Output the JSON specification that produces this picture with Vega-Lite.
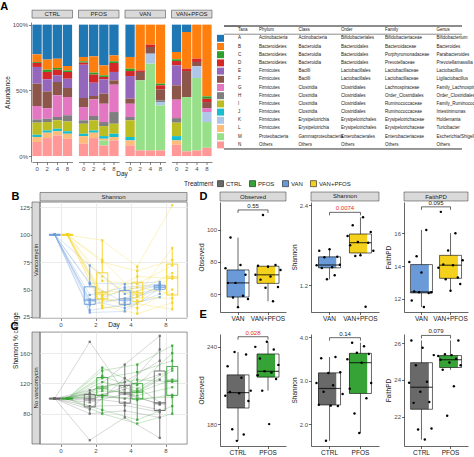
{
  "$schema": "https://vega.github.io/schema/vega-lite/v6.json",
  "padding": 0,
  "background": "white",
  "config": {
    "font": "Liberation Sans",
    "view": {"stroke": null},
    "axis": {"labelFontSize": 6, "titleFontSize": 6.5, "titleFontWeight": "normal", "labelColor": "#4D4D4D", "titleColor": "#1A1A1A", "tickColor": "#333333", "domainColor": "#333333", "tickSize": 2.5, "labelPadding": 1, "titlePadding": 2, "grid": false, "domainWidth": 0.6, "tickWidth": 0.6},
    "title": {"fontSize": 11, "fontWeight": "bold", "anchor": "start", "frame": "bounds", "color": "#000000"}
  },
  "datasets": {
    "abund": [
      {"trt":"CTRL","day":0,"taxon":"A","pct":22.6},{"trt":"CTRL","day":0,"taxon":"B","pct":5.8},{"trt":"CTRL","day":0,"taxon":"C","pct":0.7},{"trt":"CTRL","day":0,"taxon":"D","pct":3.1},{"trt":"CTRL","day":0,"taxon":"E","pct":12.7},{"trt":"CTRL","day":0,"taxon":"F","pct":17},{"trt":"CTRL","day":0,"taxon":"G","pct":10.2},{"trt":"CTRL","day":0,"taxon":"H","pct":2.5},{"trt":"CTRL","day":0,"taxon":"I","pct":9.2},{"trt":"CTRL","day":0,"taxon":"J","pct":1.7},{"trt":"CTRL","day":0,"taxon":"L","pct":3.8},{"trt":"CTRL","day":0,"taxon":"N","pct":10.7},
      {"trt":"CTRL","day":2,"taxon":"A","pct":26.6},{"trt":"CTRL","day":2,"taxon":"B","pct":7.7},{"trt":"CTRL","day":2,"taxon":"C","pct":1.7},{"trt":"CTRL","day":2,"taxon":"D","pct":5.6},{"trt":"CTRL","day":2,"taxon":"E","pct":9.2},{"trt":"CTRL","day":2,"taxon":"F","pct":12.7},{"trt":"CTRL","day":2,"taxon":"G","pct":8.1},{"trt":"CTRL","day":2,"taxon":"H","pct":2.5},{"trt":"CTRL","day":2,"taxon":"I","pct":6.4},{"trt":"CTRL","day":2,"taxon":"J","pct":1.7},{"trt":"CTRL","day":2,"taxon":"L","pct":4.1},{"trt":"CTRL","day":2,"taxon":"N","pct":13.7},
      {"trt":"CTRL","day":4,"taxon":"A","pct":25.9},{"trt":"CTRL","day":4,"taxon":"B","pct":7.1},{"trt":"CTRL","day":4,"taxon":"C","pct":1.3},{"trt":"CTRL","day":4,"taxon":"D","pct":4.3},{"trt":"CTRL","day":4,"taxon":"E","pct":5.1},{"trt":"CTRL","day":4,"taxon":"F","pct":10.1},{"trt":"CTRL","day":4,"taxon":"G","pct":16.5},{"trt":"CTRL","day":4,"taxon":"H","pct":2.5},{"trt":"CTRL","day":4,"taxon":"I","pct":6.4},{"trt":"CTRL","day":4,"taxon":"J","pct":2.0},{"trt":"CTRL","day":4,"taxon":"L","pct":3.1},{"trt":"CTRL","day":4,"taxon":"N","pct":15.7},
      {"trt":"CTRL","day":8,"taxon":"A","pct":31.5},{"trt":"CTRL","day":8,"taxon":"B","pct":3.3},{"trt":"CTRL","day":8,"taxon":"C","pct":1.2},{"trt":"CTRL","day":8,"taxon":"D","pct":5.1},{"trt":"CTRL","day":8,"taxon":"E","pct":7.1},{"trt":"CTRL","day":8,"taxon":"F","pct":6.9},{"trt":"CTRL","day":8,"taxon":"G","pct":13.9},{"trt":"CTRL","day":8,"taxon":"H","pct":4.6},{"trt":"CTRL","day":8,"taxon":"I","pct":7.6},{"trt":"CTRL","day":8,"taxon":"J","pct":1.8},{"trt":"CTRL","day":8,"taxon":"L","pct":3.8},{"trt":"CTRL","day":8,"taxon":"N","pct":13.2},
      {"trt":"PFOS","day":0,"taxon":"A","pct":24.6},{"trt":"PFOS","day":0,"taxon":"B","pct":3.3},{"trt":"PFOS","day":0,"taxon":"C","pct":1.0},{"trt":"PFOS","day":0,"taxon":"D","pct":1.6},{"trt":"PFOS","day":0,"taxon":"E","pct":25.3},{"trt":"PFOS","day":0,"taxon":"F","pct":6.9},{"trt":"PFOS","day":0,"taxon":"G","pct":10.1},{"trt":"PFOS","day":0,"taxon":"H","pct":2.6},{"trt":"PFOS","day":0,"taxon":"I","pct":7.6},{"trt":"PFOS","day":0,"taxon":"J","pct":1.8},{"trt":"PFOS","day":0,"taxon":"L","pct":5.8},{"trt":"PFOS","day":0,"taxon":"N","pct":9.4},
      {"trt":"PFOS","day":2,"taxon":"A","pct":24.1},{"trt":"PFOS","day":2,"taxon":"B","pct":12.4},{"trt":"PFOS","day":2,"taxon":"C","pct":1.5},{"trt":"PFOS","day":2,"taxon":"D","pct":6.2},{"trt":"PFOS","day":2,"taxon":"E","pct":10.1},{"trt":"PFOS","day":2,"taxon":"F","pct":2.6},{"trt":"PFOS","day":2,"taxon":"G","pct":12.6},{"trt":"PFOS","day":2,"taxon":"H","pct":3.3},{"trt":"PFOS","day":2,"taxon":"I","pct":7.7},{"trt":"PFOS","day":2,"taxon":"J","pct":1.7},{"trt":"PFOS","day":2,"taxon":"L","pct":4.1},{"trt":"PFOS","day":2,"taxon":"N","pct":13.7},
      {"trt":"PFOS","day":4,"taxon":"A","pct":31.0},{"trt":"PFOS","day":4,"taxon":"B","pct":7.6},{"trt":"PFOS","day":4,"taxon":"C","pct":1.2},{"trt":"PFOS","day":4,"taxon":"D","pct":1.8},{"trt":"PFOS","day":4,"taxon":"E","pct":10.9},{"trt":"PFOS","day":4,"taxon":"F","pct":7.7},{"trt":"PFOS","day":4,"taxon":"G","pct":13.9},{"trt":"PFOS","day":4,"taxon":"H","pct":3.1},{"trt":"PFOS","day":4,"taxon":"I","pct":7.6},{"trt":"PFOS","day":4,"taxon":"J","pct":2.0},{"trt":"PFOS","day":4,"taxon":"L","pct":1.3},{"trt":"PFOS","day":4,"taxon":"M","pct":3.8},{"trt":"PFOS","day":4,"taxon":"N","pct":8.1},
      {"trt":"PFOS","day":8,"taxon":"A","pct":23.4},{"trt":"PFOS","day":8,"taxon":"B","pct":4.5},{"trt":"PFOS","day":8,"taxon":"C","pct":1.3},{"trt":"PFOS","day":8,"taxon":"D","pct":6.8},{"trt":"PFOS","day":8,"taxon":"E","pct":6.4},{"trt":"PFOS","day":8,"taxon":"F","pct":3.3},{"trt":"PFOS","day":8,"taxon":"G","pct":20.8},{"trt":"PFOS","day":8,"taxon":"H","pct":8.9},{"trt":"PFOS","day":8,"taxon":"I","pct":7.6},{"trt":"PFOS","day":8,"taxon":"J","pct":2.5},{"trt":"PFOS","day":8,"taxon":"L","pct":2.6},{"trt":"PFOS","day":8,"taxon":"N","pct":11.9},
      {"trt":"VAN","day":0,"taxon":"A","pct":24.6},{"trt":"VAN","day":0,"taxon":"B","pct":8.9},{"trt":"VAN","day":0,"taxon":"C","pct":1.8},{"trt":"VAN","day":0,"taxon":"D","pct":3.8},{"trt":"VAN","day":0,"taxon":"E","pct":17.2},{"trt":"VAN","day":0,"taxon":"F","pct":3.9},{"trt":"VAN","day":0,"taxon":"G","pct":10.1},{"trt":"VAN","day":0,"taxon":"H","pct":2.5},{"trt":"VAN","day":0,"taxon":"I","pct":12.7},{"trt":"VAN","day":0,"taxon":"J","pct":2.6},{"trt":"VAN","day":0,"taxon":"L","pct":3.8},{"trt":"VAN","day":0,"taxon":"N","pct":8.1},
      {"trt":"VAN","day":2,"taxon":"B","pct":34.8},{"trt":"VAN","day":2,"taxon":"D","pct":1.2},{"trt":"VAN","day":2,"taxon":"F","pct":6.4},{"trt":"VAN","day":2,"taxon":"M","pct":53.3},{"trt":"VAN","day":2,"taxon":"N","pct":4.3},
      {"trt":"VAN","day":4,"taxon":"B","pct":15.2},{"trt":"VAN","day":4,"taxon":"D","pct":1.8},{"trt":"VAN","day":4,"taxon":"F","pct":5.1},{"trt":"VAN","day":4,"taxon":"K","pct":7.6},{"trt":"VAN","day":4,"taxon":"M","pct":66.0},{"trt":"VAN","day":4,"taxon":"N","pct":4.3},
      {"trt":"VAN","day":8,"taxon":"B","pct":44.9},{"trt":"VAN","day":8,"taxon":"C","pct":1.3},{"trt":"VAN","day":8,"taxon":"D","pct":3.0},{"trt":"VAN","day":8,"taxon":"F","pct":8.4},{"trt":"VAN","day":8,"taxon":"H","pct":1.3},{"trt":"VAN","day":8,"taxon":"K","pct":2.5},{"trt":"VAN","day":8,"taxon":"M","pct":34.3},{"trt":"VAN","day":8,"taxon":"N","pct":4.3},
      {"trt":"VAN+PFOS","day":0,"taxon":"A","pct":20.8},{"trt":"VAN+PFOS","day":0,"taxon":"B","pct":5.6},{"trt":"VAN+PFOS","day":0,"taxon":"C","pct":1.3},{"trt":"VAN+PFOS","day":0,"taxon":"D","pct":3.3},{"trt":"VAN+PFOS","day":0,"taxon":"E","pct":15.2},{"trt":"VAN+PFOS","day":0,"taxon":"F","pct":10.9},{"trt":"VAN+PFOS","day":0,"taxon":"G","pct":14.0},{"trt":"VAN+PFOS","day":0,"taxon":"H","pct":3.5},{"trt":"VAN+PFOS","day":0,"taxon":"I","pct":10.2},{"trt":"VAN+PFOS","day":0,"taxon":"J","pct":3.3},{"trt":"VAN+PFOS","day":0,"taxon":"L","pct":3.3},{"trt":"VAN+PFOS","day":0,"taxon":"N","pct":8.6},
      {"trt":"VAN+PFOS","day":2,"taxon":"A","pct":5.6},{"trt":"VAN+PFOS","day":2,"taxon":"B","pct":27.9},{"trt":"VAN+PFOS","day":2,"taxon":"D","pct":1.8},{"trt":"VAN+PFOS","day":2,"taxon":"F","pct":19.8},{"trt":"VAN+PFOS","day":2,"taxon":"M","pct":41.3},{"trt":"VAN+PFOS","day":2,"taxon":"N","pct":3.6},
      {"trt":"VAN+PFOS","day":4,"taxon":"B","pct":25.9},{"trt":"VAN+PFOS","day":4,"taxon":"D","pct":2.5},{"trt":"VAN+PFOS","day":4,"taxon":"F","pct":3.3},{"trt":"VAN+PFOS","day":4,"taxon":"K","pct":8.9},{"trt":"VAN+PFOS","day":4,"taxon":"M","pct":55.1},{"trt":"VAN+PFOS","day":4,"taxon":"N","pct":4.3},
      {"trt":"VAN+PFOS","day":8,"taxon":"B","pct":54.6},{"trt":"VAN+PFOS","day":8,"taxon":"C","pct":1.8},{"trt":"VAN+PFOS","day":8,"taxon":"D","pct":2.5},{"trt":"VAN+PFOS","day":8,"taxon":"F","pct":4.6},{"trt":"VAN+PFOS","day":8,"taxon":"G","pct":3.0},{"trt":"VAN+PFOS","day":8,"taxon":"K","pct":7.6},{"trt":"VAN+PFOS","day":8,"taxon":"M","pct":19.6},{"trt":"VAN+PFOS","day":8,"taxon":"N","pct":6.3}
    ],
    "taxtable": [
      {"Taxa":"A","Phylum":"Actinobacteria","Class":"Actinobacteria","Order":"Bifidobacteriales","Family":"Bifidobacteriaceae","Genus":"Bifidobacterium"},
      {"Taxa":"B","Phylum":"Bacteroidetes","Class":"Bacteroidia","Order":"Bacteroidales","Family":"Bacteroidaceae","Genus":"Bacteroides"},
      {"Taxa":"C","Phylum":"Bacteroidetes","Class":"Bacteroidia","Order":"Bacteroidales","Family":"Porphyromonadaceae","Genus":"Parabacteroides"},
      {"Taxa":"D","Phylum":"Bacteroidetes","Class":"Bacteroidia","Order":"Bacteroidales","Family":"Prevotellaceae","Genus":"Prevotellamassilia"},
      {"Taxa":"E","Phylum":"Firmicutes","Class":"Bacilli","Order":"Lactobacillales","Family":"Lactobacillaceae","Genus":"Lactobacillus"},
      {"Taxa":"F","Phylum":"Firmicutes","Class":"Bacilli","Order":"Lactobacillales","Family":"Lactobacillaceae","Genus":"Ligilactobacillus"},
      {"Taxa":"G","Phylum":"Firmicutes","Class":"Clostridia","Order":"Clostridiales","Family":"Lachnospiraceae","Genus":"Family_Lachnospiraceae"},
      {"Taxa":"H","Phylum":"Firmicutes","Class":"Clostridia","Order":"Clostridiales","Family":"Order_Clostridiales","Genus":"Order_Clostridiales"},
      {"Taxa":"I","Phylum":"Firmicutes","Class":"Clostridia","Order":"Clostridiales","Family":"Ruminococcaceae","Genus":"Family_Ruminococcaceae"},
      {"Taxa":"J","Phylum":"Firmicutes","Class":"Clostridia","Order":"Clostridiales","Family":"Ruminococcaceae","Genus":"Intestinimonas"},
      {"Taxa":"K","Phylum":"Firmicutes","Class":"Erysipelotrichia","Order":"Erysipelotrichales","Family":"Erysipelotrichaceae","Genus":"Holdemania"},
      {"Taxa":"L","Phylum":"Firmicutes","Class":"Erysipelotrichia","Order":"Erysipelotrichales","Family":"Erysipelotrichaceae","Genus":"Turicibacter"},
      {"Taxa":"M","Phylum":"Proteobacteria","Class":"Gammaproteobacteria","Order":"Enterobacterales","Family":"Enterobacteriaceae","Genus":"Escherichia/Shigella"},
      {"Taxa":"N","Phylum":"Others","Class":"Others","Order":"Others","Family":"Others","Genus":"Others"}
    ],
    "trajB": [
      {"trt":"VAN","mouse":"V1","day":0,"pct":100},{"trt":"VAN","mouse":"V1","day":2,"pct":72},{"trt":"VAN","mouse":"V1","day":4,"pct":46},{"trt":"VAN","mouse":"V1","day":8,"pct":54},
      {"trt":"VAN","mouse":"V2","day":0,"pct":100},{"trt":"VAN","mouse":"V2","day":2,"pct":56},{"trt":"VAN","mouse":"V2","day":4,"pct":55},{"trt":"VAN","mouse":"V2","day":8,"pct":57},
      {"trt":"VAN","mouse":"V3","day":0,"pct":100},{"trt":"VAN","mouse":"V3","day":2,"pct":55},{"trt":"VAN","mouse":"V3","day":4,"pct":38},{"trt":"VAN","mouse":"V3","day":8,"pct":53},
      {"trt":"VAN","mouse":"V4","day":0,"pct":100},{"trt":"VAN","mouse":"V4","day":2,"pct":45},{"trt":"VAN","mouse":"V4","day":4,"pct":52},{"trt":"VAN","mouse":"V4","day":8,"pct":55},
      {"trt":"VAN","mouse":"V5","day":0,"pct":100},{"trt":"VAN","mouse":"V5","day":2,"pct":41},{"trt":"VAN","mouse":"V5","day":4,"pct":40},{"trt":"VAN","mouse":"V5","day":8,"pct":50},
      {"trt":"VAN","mouse":"V6","day":0,"pct":100},{"trt":"VAN","mouse":"V6","day":2,"pct":40},{"trt":"VAN","mouse":"V6","day":4,"pct":33},{"trt":"VAN","mouse":"V6","day":8,"pct":46},
      {"trt":"VAN","mouse":"V7","day":0,"pct":100},{"trt":"VAN","mouse":"V7","day":2,"pct":38},{"trt":"VAN","mouse":"V7","day":4,"pct":50},{"trt":"VAN","mouse":"V7","day":8,"pct":54},
      {"trt":"VAN","mouse":"V8","day":0,"pct":100},{"trt":"VAN","mouse":"V8","day":2,"pct":36},{"trt":"VAN","mouse":"V8","day":4,"pct":42},{"trt":"VAN","mouse":"V8","day":8,"pct":52},
      {"trt":"VAN","mouse":"V9","day":0,"pct":100},{"trt":"VAN","mouse":"V9","day":2,"pct":31},{"trt":"VAN","mouse":"V9","day":4,"pct":36},{"trt":"VAN","mouse":"V9","day":8,"pct":43},
      {"trt":"VAN","mouse":"V10","day":0,"pct":100},{"trt":"VAN","mouse":"V10","day":2,"pct":29},{"trt":"VAN","mouse":"V10","day":4,"pct":30},{"trt":"VAN","mouse":"V10","day":8,"pct":51},
      {"trt":"VAN+PFOS","mouse":"P1","day":0,"pct":100},{"trt":"VAN+PFOS","mouse":"P1","day":2,"pct":95},{"trt":"VAN+PFOS","mouse":"P1","day":4,"pct":71},{"trt":"VAN+PFOS","mouse":"P1","day":8,"pct":127},
      {"trt":"VAN+PFOS","mouse":"P2","day":0,"pct":100},{"trt":"VAN+PFOS","mouse":"P2","day":2,"pct":77},{"trt":"VAN+PFOS","mouse":"P2","day":4,"pct":45},{"trt":"VAN+PFOS","mouse":"P2","day":8,"pct":88},
      {"trt":"VAN+PFOS","mouse":"P3","day":0,"pct":100},{"trt":"VAN+PFOS","mouse":"P3","day":2,"pct":75},{"trt":"VAN+PFOS","mouse":"P3","day":4,"pct":67},{"trt":"VAN+PFOS","mouse":"P3","day":8,"pct":77},
      {"trt":"VAN+PFOS","mouse":"P4","day":0,"pct":100},{"trt":"VAN+PFOS","mouse":"P4","day":2,"pct":62},{"trt":"VAN+PFOS","mouse":"P4","day":4,"pct":40},{"trt":"VAN+PFOS","mouse":"P4","day":8,"pct":62},
      {"trt":"VAN+PFOS","mouse":"P5","day":0,"pct":100},{"trt":"VAN+PFOS","mouse":"P5","day":2,"pct":58},{"trt":"VAN+PFOS","mouse":"P5","day":4,"pct":55},{"trt":"VAN+PFOS","mouse":"P5","day":8,"pct":72},
      {"trt":"VAN+PFOS","mouse":"P6","day":0,"pct":100},{"trt":"VAN+PFOS","mouse":"P6","day":2,"pct":48},{"trt":"VAN+PFOS","mouse":"P6","day":4,"pct":48},{"trt":"VAN+PFOS","mouse":"P6","day":8,"pct":65},
      {"trt":"VAN+PFOS","mouse":"P7","day":0,"pct":100},{"trt":"VAN+PFOS","mouse":"P7","day":2,"pct":45},{"trt":"VAN+PFOS","mouse":"P7","day":4,"pct":62},{"trt":"VAN+PFOS","mouse":"P7","day":8,"pct":60},
      {"trt":"VAN+PFOS","mouse":"P8","day":0,"pct":100},{"trt":"VAN+PFOS","mouse":"P8","day":2,"pct":44},{"trt":"VAN+PFOS","mouse":"P8","day":4,"pct":52},{"trt":"VAN+PFOS","mouse":"P8","day":8,"pct":46},
      {"trt":"VAN+PFOS","mouse":"P9","day":0,"pct":100},{"trt":"VAN+PFOS","mouse":"P9","day":2,"pct":42},{"trt":"VAN+PFOS","mouse":"P9","day":4,"pct":33},{"trt":"VAN+PFOS","mouse":"P9","day":8,"pct":50},
      {"trt":"VAN+PFOS","mouse":"P10","day":0,"pct":100},{"trt":"VAN+PFOS","mouse":"P10","day":2,"pct":40},{"trt":"VAN+PFOS","mouse":"P10","day":4,"pct":43},{"trt":"VAN+PFOS","mouse":"P10","day":8,"pct":42},
      {"trt":"VAN+PFOS","mouse":"P11","day":0,"pct":100},{"trt":"VAN+PFOS","mouse":"P11","day":2,"pct":35},{"trt":"VAN+PFOS","mouse":"P11","day":4,"pct":28},{"trt":"VAN+PFOS","mouse":"P11","day":8,"pct":38},
      {"trt":"VAN+PFOS","mouse":"P12","day":0,"pct":100},{"trt":"VAN+PFOS","mouse":"P12","day":2,"pct":33},{"trt":"VAN+PFOS","mouse":"P12","day":4,"pct":37},{"trt":"VAN+PFOS","mouse":"P12","day":8,"pct":32}
    ],
    "trajC": [
      {"trt":"CTRL","mouse":"C1","day":0,"pct":100},{"trt":"CTRL","mouse":"C1","day":2,"pct":175},{"trt":"CTRL","mouse":"C1","day":4,"pct":108},{"trt":"CTRL","mouse":"C1","day":8,"pct":92},
      {"trt":"CTRL","mouse":"C2","day":0,"pct":100},{"trt":"CTRL","mouse":"C2","day":2,"pct":111},{"trt":"CTRL","mouse":"C2","day":4,"pct":122},{"trt":"CTRL","mouse":"C2","day":8,"pct":150},
      {"trt":"CTRL","mouse":"C3","day":0,"pct":100},{"trt":"CTRL","mouse":"C3","day":2,"pct":107},{"trt":"CTRL","mouse":"C3","day":4,"pct":145},{"trt":"CTRL","mouse":"C3","day":8,"pct":183},
      {"trt":"CTRL","mouse":"C4","day":0,"pct":100},{"trt":"CTRL","mouse":"C4","day":2,"pct":105},{"trt":"CTRL","mouse":"C4","day":4,"pct":100},{"trt":"CTRL","mouse":"C4","day":8,"pct":125},
      {"trt":"CTRL","mouse":"C5","day":0,"pct":100},{"trt":"CTRL","mouse":"C5","day":2,"pct":102},{"trt":"CTRL","mouse":"C5","day":4,"pct":112},{"trt":"CTRL","mouse":"C5","day":8,"pct":165},
      {"trt":"CTRL","mouse":"C6","day":0,"pct":100},{"trt":"CTRL","mouse":"C6","day":2,"pct":100},{"trt":"CTRL","mouse":"C6","day":4,"pct":95},{"trt":"CTRL","mouse":"C6","day":8,"pct":85},
      {"trt":"CTRL","mouse":"C7","day":0,"pct":100},{"trt":"CTRL","mouse":"C7","day":2,"pct":98},{"trt":"CTRL","mouse":"C7","day":4,"pct":116},{"trt":"CTRL","mouse":"C7","day":8,"pct":132},
      {"trt":"CTRL","mouse":"C8","day":0,"pct":100},{"trt":"CTRL","mouse":"C8","day":2,"pct":95},{"trt":"CTRL","mouse":"C8","day":4,"pct":106},{"trt":"CTRL","mouse":"C8","day":8,"pct":93},
      {"trt":"CTRL","mouse":"C9","day":0,"pct":100},{"trt":"CTRL","mouse":"C9","day":2,"pct":90},{"trt":"CTRL","mouse":"C9","day":4,"pct":91},{"trt":"CTRL","mouse":"C9","day":8,"pct":82},
      {"trt":"CTRL","mouse":"C10","day":0,"pct":100},{"trt":"CTRL","mouse":"C10","day":2,"pct":86},{"trt":"CTRL","mouse":"C10","day":4,"pct":127},{"trt":"CTRL","mouse":"C10","day":8,"pct":95},
      {"trt":"CTRL","mouse":"C11","day":0,"pct":100},{"trt":"CTRL","mouse":"C11","day":2,"pct":80},{"trt":"CTRL","mouse":"C11","day":4,"pct":84},{"trt":"CTRL","mouse":"C11","day":8,"pct":75},
      {"trt":"CTRL","mouse":"C12","day":0,"pct":100},{"trt":"CTRL","mouse":"C12","day":2,"pct":45},{"trt":"CTRL","mouse":"C12","day":4,"pct":75},{"trt":"CTRL","mouse":"C12","day":8,"pct":48},
      {"trt":"PFOS","mouse":"G1","day":0,"pct":100},{"trt":"PFOS","mouse":"G1","day":2,"pct":141},{"trt":"PFOS","mouse":"G1","day":4,"pct":118},{"trt":"PFOS","mouse":"G1","day":8,"pct":160},
      {"trt":"PFOS","mouse":"G2","day":0,"pct":100},{"trt":"PFOS","mouse":"G2","day":2,"pct":137},{"trt":"PFOS","mouse":"G2","day":4,"pct":145},{"trt":"PFOS","mouse":"G2","day":8,"pct":170},
      {"trt":"PFOS","mouse":"G3","day":0,"pct":100},{"trt":"PFOS","mouse":"G3","day":2,"pct":130},{"trt":"PFOS","mouse":"G3","day":4,"pct":113},{"trt":"PFOS","mouse":"G3","day":8,"pct":140},
      {"trt":"PFOS","mouse":"G4","day":0,"pct":100},{"trt":"PFOS","mouse":"G4","day":2,"pct":127},{"trt":"PFOS","mouse":"G4","day":4,"pct":135},{"trt":"PFOS","mouse":"G4","day":8,"pct":150},
      {"trt":"PFOS","mouse":"G5","day":0,"pct":100},{"trt":"PFOS","mouse":"G5","day":2,"pct":122},{"trt":"PFOS","mouse":"G5","day":4,"pct":110},{"trt":"PFOS","mouse":"G5","day":8,"pct":137},
      {"trt":"PFOS","mouse":"G6","day":0,"pct":100},{"trt":"PFOS","mouse":"G6","day":2,"pct":116},{"trt":"PFOS","mouse":"G6","day":4,"pct":125},{"trt":"PFOS","mouse":"G6","day":8,"pct":122},
      {"trt":"PFOS","mouse":"G7","day":0,"pct":100},{"trt":"PFOS","mouse":"G7","day":2,"pct":113},{"trt":"PFOS","mouse":"G7","day":4,"pct":104},{"trt":"PFOS","mouse":"G7","day":8,"pct":115},
      {"trt":"PFOS","mouse":"G8","day":0,"pct":100},{"trt":"PFOS","mouse":"G8","day":2,"pct":110},{"trt":"PFOS","mouse":"G8","day":4,"pct":108},{"trt":"PFOS","mouse":"G8","day":8,"pct":125},
      {"trt":"PFOS","mouse":"G9","day":0,"pct":100},{"trt":"PFOS","mouse":"G9","day":2,"pct":105},{"trt":"PFOS","mouse":"G9","day":4,"pct":98},{"trt":"PFOS","mouse":"G9","day":8,"pct":105},
      {"trt":"PFOS","mouse":"G10","day":0,"pct":100},{"trt":"PFOS","mouse":"G10","day":2,"pct":102},{"trt":"PFOS","mouse":"G10","day":4,"pct":100},{"trt":"PFOS","mouse":"G10","day":8,"pct":102},
      {"trt":"PFOS","mouse":"G11","day":0,"pct":100},{"trt":"PFOS","mouse":"G11","day":2,"pct":85},{"trt":"PFOS","mouse":"G11","day":4,"pct":72},{"trt":"PFOS","mouse":"G11","day":8,"pct":90},
      {"trt":"PFOS","mouse":"G12","day":0,"pct":100},{"trt":"PFOS","mouse":"G12","day":2,"pct":80},{"trt":"PFOS","mouse":"G12","day":4,"pct":67},{"trt":"PFOS","mouse":"G12","day":8,"pct":80}
    ],
    "alphaD": [
      {"metric":"Observed","group":"VAN","mouse":3,"value":95},{"metric":"Observed","group":"VAN","mouse":7,"value":78},{"metric":"Observed","group":"VAN","mouse":1,"value":76},{"metric":"Observed","group":"VAN","mouse":9,"value":72},{"metric":"Observed","group":"VAN","mouse":5,"value":67},{"metric":"Observed","group":"VAN","mouse":2,"value":67},{"metric":"Observed","group":"VAN","mouse":8,"value":59},{"metric":"Observed","group":"VAN","mouse":4,"value":58},{"metric":"Observed","group":"VAN","mouse":10,"value":57},{"metric":"Observed","group":"VAN","mouse":6,"value":52},
      {"metric":"Shannon","group":"VAN","mouse":6,"value":1.74},{"metric":"Shannon","group":"VAN","mouse":2,"value":1.72},{"metric":"Shannon","group":"VAN","mouse":9,"value":1.63},{"metric":"Shannon","group":"VAN","mouse":4,"value":1.62},{"metric":"Shannon","group":"VAN","mouse":10,"value":1.51},{"metric":"Shannon","group":"VAN","mouse":1,"value":1.50},{"metric":"Shannon","group":"VAN","mouse":7,"value":1.47},{"metric":"Shannon","group":"VAN","mouse":3,"value":1.46},{"metric":"Shannon","group":"VAN","mouse":8,"value":1.35},{"metric":"Shannon","group":"VAN","mouse":5,"value":1.29},
      {"metric":"FaithPD","group":"VAN","mouse":8,"value":16.2},{"metric":"FaithPD","group":"VAN","mouse":4,"value":14.6},{"metric":"FaithPD","group":"VAN","mouse":1,"value":14.25},{"metric":"FaithPD","group":"VAN","mouse":6,"value":13.6},{"metric":"FaithPD","group":"VAN","mouse":3,"value":12.45},{"metric":"FaithPD","group":"VAN","mouse":10,"value":12.4},{"metric":"FaithPD","group":"VAN","mouse":5,"value":12.4},{"metric":"FaithPD","group":"VAN","mouse":9,"value":12.35},{"metric":"FaithPD","group":"VAN","mouse":2,"value":11.9},{"metric":"FaithPD","group":"VAN","mouse":7,"value":11.5},
      {"metric":"Observed","group":"VAN+PFOS","mouse":4,"value":109},{"metric":"Observed","group":"VAN+PFOS","mouse":9,"value":78},{"metric":"Observed","group":"VAN+PFOS","mouse":2,"value":77.6},{"metric":"Observed","group":"VAN+PFOS","mouse":6,"value":77},{"metric":"Observed","group":"VAN+PFOS","mouse":11,"value":75},{"metric":"Observed","group":"VAN+PFOS","mouse":1,"value":72},{"metric":"Observed","group":"VAN+PFOS","mouse":7,"value":71},{"metric":"Observed","group":"VAN+PFOS","mouse":3,"value":69},{"metric":"Observed","group":"VAN+PFOS","mouse":10,"value":64.4},{"metric":"Observed","group":"VAN+PFOS","mouse":5,"value":64},{"metric":"Observed","group":"VAN+PFOS","mouse":8,"value":55.6},
      {"metric":"Shannon","group":"VAN+PFOS","mouse":7,"value":2.22},{"metric":"Shannon","group":"VAN+PFOS","mouse":3,"value":2.10},{"metric":"Shannon","group":"VAN+PFOS","mouse":10,"value":2.00},{"metric":"Shannon","group":"VAN+PFOS","mouse":1,"value":1.94},{"metric":"Shannon","group":"VAN+PFOS","mouse":5,"value":1.85},{"metric":"Shannon","group":"VAN+PFOS","mouse":9,"value":1.84},{"metric":"Shannon","group":"VAN+PFOS","mouse":2,"value":1.80},{"metric":"Shannon","group":"VAN+PFOS","mouse":11,"value":1.72},{"metric":"Shannon","group":"VAN+PFOS","mouse":6,"value":1.65},{"metric":"Shannon","group":"VAN+PFOS","mouse":4,"value":1.64},{"metric":"Shannon","group":"VAN+PFOS","mouse":8,"value":0.88},
      {"metric":"FaithPD","group":"VAN+PFOS","mouse":2,"value":17.3},{"metric":"FaithPD","group":"VAN+PFOS","mouse":8,"value":16.0},{"metric":"FaithPD","group":"VAN+PFOS","mouse":5,"value":14.95},{"metric":"FaithPD","group":"VAN+PFOS","mouse":11,"value":14.35},{"metric":"FaithPD","group":"VAN+PFOS","mouse":3,"value":14.1},{"metric":"FaithPD","group":"VAN+PFOS","mouse":7,"value":14.05},{"metric":"FaithPD","group":"VAN+PFOS","mouse":1,"value":13.9},{"metric":"FaithPD","group":"VAN+PFOS","mouse":9,"value":13.3},{"metric":"FaithPD","group":"VAN+PFOS","mouse":4,"value":13.2},{"metric":"FaithPD","group":"VAN+PFOS","mouse":10,"value":12.9},{"metric":"FaithPD","group":"VAN+PFOS","mouse":6,"value":12.5}
    ],
    "alphaE": [
      {"metric":"Observed","group":"CTRL","mouse":5,"value":236},{"metric":"Observed","group":"CTRL","mouse":10,"value":234},{"metric":"Observed","group":"CTRL","mouse":2,"value":225},{"metric":"Observed","group":"CTRL","mouse":8,"value":216},{"metric":"Observed","group":"CTRL","mouse":12,"value":206},{"metric":"Observed","group":"CTRL","mouse":3,"value":205},{"metric":"Observed","group":"CTRL","mouse":7,"value":204},{"metric":"Observed","group":"CTRL","mouse":1,"value":202},{"metric":"Observed","group":"CTRL","mouse":11,"value":198},{"metric":"Observed","group":"CTRL","mouse":4,"value":176},{"metric":"Observed","group":"CTRL","mouse":9,"value":172},{"metric":"Observed","group":"CTRL","mouse":6,"value":167},
      {"metric":"Shannon","group":"CTRL","mouse":9,"value":3.55},{"metric":"Shannon","group":"CTRL","mouse":3,"value":3.52},{"metric":"Shannon","group":"CTRL","mouse":11,"value":3.20},{"metric":"Shannon","group":"CTRL","mouse":6,"value":3.18},{"metric":"Shannon","group":"CTRL","mouse":1,"value":2.95},{"metric":"Shannon","group":"CTRL","mouse":8,"value":2.90},{"metric":"Shannon","group":"CTRL","mouse":4,"value":2.75},{"metric":"Shannon","group":"CTRL","mouse":12,"value":2.70},{"metric":"Shannon","group":"CTRL","mouse":2,"value":2.45},{"metric":"Shannon","group":"CTRL","mouse":7,"value":2.43},{"metric":"Shannon","group":"CTRL","mouse":10,"value":2.42},{"metric":"Shannon","group":"CTRL","mouse":5,"value":1.62},
      {"metric":"FaithPD","group":"CTRL","mouse":2,"value":26.15},{"metric":"FaithPD","group":"CTRL","mouse":7,"value":25.75},{"metric":"FaithPD","group":"CTRL","mouse":12,"value":25.35},{"metric":"FaithPD","group":"CTRL","mouse":4,"value":24.8},{"metric":"FaithPD","group":"CTRL","mouse":9,"value":23.9},{"metric":"FaithPD","group":"CTRL","mouse":1,"value":23.85},{"metric":"FaithPD","group":"CTRL","mouse":6,"value":23.35},{"metric":"FaithPD","group":"CTRL","mouse":10,"value":22.8},{"metric":"FaithPD","group":"CTRL","mouse":3,"value":22.75},{"metric":"FaithPD","group":"CTRL","mouse":11,"value":21.35},{"metric":"FaithPD","group":"CTRL","mouse":5,"value":21.3},{"metric":"FaithPD","group":"CTRL","mouse":8,"value":20.75},
      {"metric":"Observed","group":"PFOS","mouse":6,"value":244},{"metric":"Observed","group":"PFOS","mouse":1,"value":240},{"metric":"Observed","group":"PFOS","mouse":9,"value":238},{"metric":"Observed","group":"PFOS","mouse":3,"value":231},{"metric":"Observed","group":"PFOS","mouse":11,"value":226},{"metric":"Observed","group":"PFOS","mouse":5,"value":221},{"metric":"Observed","group":"PFOS","mouse":8,"value":220},{"metric":"Observed","group":"PFOS","mouse":2,"value":218},{"metric":"Observed","group":"PFOS","mouse":10,"value":215},{"metric":"Observed","group":"PFOS","mouse":4,"value":206},{"metric":"Observed","group":"PFOS","mouse":7,"value":180},
      {"metric":"Shannon","group":"PFOS","mouse":3,"value":3.88},{"metric":"Shannon","group":"PFOS","mouse":8,"value":3.80},{"metric":"Shannon","group":"PFOS","mouse":5,"value":3.65},{"metric":"Shannon","group":"PFOS","mouse":10,"value":3.62},{"metric":"Shannon","group":"PFOS","mouse":1,"value":3.50},{"metric":"Shannon","group":"PFOS","mouse":7,"value":3.42},{"metric":"Shannon","group":"PFOS","mouse":11,"value":2.95},{"metric":"Shannon","group":"PFOS","mouse":2,"value":2.82},{"metric":"Shannon","group":"PFOS","mouse":9,"value":2.60},{"metric":"Shannon","group":"PFOS","mouse":4,"value":2.25},{"metric":"Shannon","group":"PFOS","mouse":6,"value":1.80},
      {"metric":"FaithPD","group":"PFOS","mouse":10,"value":26.15},{"metric":"FaithPD","group":"PFOS","mouse":4,"value":25.4},{"metric":"FaithPD","group":"PFOS","mouse":7,"value":25.35},{"metric":"FaithPD","group":"PFOS","mouse":1,"value":25.3},{"metric":"FaithPD","group":"PFOS","mouse":9,"value":25.15},{"metric":"FaithPD","group":"PFOS","mouse":2,"value":25.1},{"metric":"FaithPD","group":"PFOS","mouse":6,"value":24.95},{"metric":"FaithPD","group":"PFOS","mouse":11,"value":24.8},{"metric":"FaithPD","group":"PFOS","mouse":3,"value":24.55},{"metric":"FaithPD","group":"PFOS","mouse":8,"value":23.65},{"metric":"FaithPD","group":"PFOS","mouse":5,"value":22.05}
    ],
    "pD": [{"metric":"Observed","p":"0.55"},{"metric":"Shannon","p":"0.0074"},{"metric":"FaithPD","p":"0.095"}],
    "pE": [{"metric":"Observed","p":"0.028"},{"metric":"Shannon","p":"0.14"},{"metric":"FaithPD","p":"0.079"}]
  },
  "spacing": 12,
  "resolve": {"scale": {"x": "independent", "y": "independent", "color": "independent", "stroke": "independent", "xOffset": "independent", "fill": "shared"}, "legend": {"fill": "shared"}},
  "vconcat": [
    {
      "spacing": 4,
      "resolve": {"scale": {"x": "independent", "y": "independent"}},
      "hconcat": [
        {
          "title": {"text": "A", "offset": -2, "dx": -4},
          "data": {"name": "abund"},
          "facet": {"column": {"field": "trt", "type": "nominal", "sort": ["CTRL","PFOS","VAN","VAN+PFOS"], "title": "Day", "header": {"labels": false, "titleOrient": "bottom", "titleFontSize": 6.5, "titleFontWeight": "normal", "titleColor": "#1A1A1A", "titlePadding": -11}}},
          "spacing": 4.5,
          "spec": {
            "width": 40.5, "height": 140,
            "layer": [
              {"mark": {"type": "bar"},
               "encoding": {
                 "x": {"field": "day", "type": "ordinal", "title": null, "scale": {"paddingInner": 0.08, "paddingOuter": 0.04}, "axis": {"labelAngle": 0}},
                 "y": {"field": "pct", "type": "quantitative", "stack": "normalize", "scale": {"domain": [-0.045, 1.02], "nice": false, "zero": false}, "axis": {"values": [0, 0.25, 0.5, 0.75, 1], "format": ".0%", "title": "Abundance"}},
                 "color": {"field": "taxon", "type": "nominal", "scale": {"domain": ["A","B","C","D","E","F","G","H","I","J","K","L","M","N"], "range": ["#1F77B4","#FF7F0E","#2CA02C","#D62728","#9467BD","#8C564B","#E377C2","#7F7F7F","#BCBD22","#17BECF","#AEC7E8","#FFBB78","#98DF8A","#FF9896"]}, "legend": null},
                 "order": {"field": "taxon", "sort": "descending"}}},
              {"transform": [{"aggregate": [{"op": "count", "as": "n"}], "groupby": ["trt"]}],
               "mark": {"type": "rect", "fill": "#D9D9D9", "stroke": "#333333", "strokeWidth": 0.5},
               "encoding": {"y": {"datum": 1.05}, "y2": {"datum": 1.11}}},
              {"transform": [{"aggregate": [{"op": "count", "as": "n"}], "groupby": ["trt"]}],
               "mark": {"type": "text", "fontSize": 6, "color": "#1A1A1A"},
               "encoding": {"y": {"datum": 1.08}, "text": {"field": "trt"}}}
            ]
          }
        },
        {
          "spacing": 0, "bounds": "flush", "align": "each",
          "resolve": {"scale": {"x": "independent"}},
          "hconcat": [
            {"width": 7, "height": 131, "data": {"name": "taxtable"},
             "mark": {"type": "rect"},
             "encoding": {
               "y": {"field": "Taxa", "type": "nominal", "scale": {"domain": ["hdr","A","B","C","D","E","F","G","H","I","J","K","L","M","N"], "paddingInner": 0.15, "paddingOuter": 0.563}, "axis": null},
               "color": {"field": "Taxa", "type": "nominal", "scale": {"domain": ["A","B","C","D","E","F","G","H","I","J","K","L","M","N"], "range": ["#1F77B4","#FF7F0E","#2CA02C","#D62728","#9467BD","#8C564B","#E377C2","#7F7F7F","#BCBD22","#17BECF","#AEC7E8","#FFBB78","#98DF8A","#FF9896"]}, "legend": null}}},
            {"width": 17, "height": 131, "data": {"name": "taxtable"}, "transform": [{"fold": ["Taxa"], "as": ["col", "label"]}],
             "layer": [
               {"mark": {"type": "text", "align": "left", "baseline": "middle", "fontSize": 4.5, "dx": 5.5, "color": "#1A1A1A"}, "encoding": {"x": {"field": "col", "type": "nominal", "scale": {"paddingInner": 0, "paddingOuter": 0}, "axis": null, "bandPosition": 0}, "y": {"field": "Taxa", "type": "nominal", "scale": {"domain": ["hdr","A","B","C","D","E","F","G","H","I","J","K","L","M","N"], "paddingInner": 0, "paddingOuter": 0.49}, "axis": null}, "text": {"field": "label"}}},
               {"transform": [{"aggregate": [{"op": "count", "as": "n"}], "groupby": ["col"]}], "mark": {"type": "text", "align": "left", "baseline": "middle", "fontSize": 4.5, "dx": 5.5, "color": "#1A1A1A"}, "encoding": {"x": {"field": "col", "type": "nominal", "axis": null, "bandPosition": 0}, "y": {"datum": "hdr", "type": "nominal"}, "text": {"field": "col"}}},
               {"transform": [{"aggregate": [{"op": "count", "as": "n"}]}], "mark": {"type": "rule", "strokeWidth": 1.2, "color": "#1A1A1A"}, "encoding": {"y": {"datum": "hdr", "type": "nominal", "bandPosition": 0}}},
               {"transform": [{"aggregate": [{"op": "count", "as": "n"}]}], "mark": {"type": "rule", "strokeWidth": 0.5, "color": "#1A1A1A"}, "encoding": {"y": {"datum": "A", "type": "nominal", "bandPosition": 0}}},
               {"transform": [{"aggregate": [{"op": "count", "as": "n"}]}], "mark": {"type": "rule", "strokeWidth": 0.9, "color": "#1A1A1A"}, "encoding": {"y": {"datum": "N", "type": "nominal", "bandPosition": 1}}}
             ]},
            {"width": 33, "height": 131, "data": {"name": "taxtable"}, "transform": [{"fold": ["Phylum"], "as": ["col", "label"]}],
             "layer": [
               {"mark": {"type": "text", "align": "left", "baseline": "middle", "fontSize": 4.5, "dx": 1.5, "color": "#1A1A1A"}, "encoding": {"x": {"field": "col", "type": "nominal", "scale": {"paddingInner": 0, "paddingOuter": 0}, "axis": null, "bandPosition": 0}, "y": {"field": "Taxa", "type": "nominal", "scale": {"domain": ["hdr","A","B","C","D","E","F","G","H","I","J","K","L","M","N"], "paddingInner": 0, "paddingOuter": 0.49}, "axis": null}, "text": {"field": "label"}}},
               {"transform": [{"aggregate": [{"op": "count", "as": "n"}], "groupby": ["col"]}], "mark": {"type": "text", "align": "left", "baseline": "middle", "fontSize": 4.5, "dx": 1.5, "color": "#1A1A1A"}, "encoding": {"x": {"field": "col", "type": "nominal", "axis": null, "bandPosition": 0}, "y": {"datum": "hdr", "type": "nominal"}, "text": {"field": "col"}}},
               {"transform": [{"aggregate": [{"op": "count", "as": "n"}]}], "mark": {"type": "rule", "strokeWidth": 1.2, "color": "#1A1A1A"}, "encoding": {"y": {"datum": "hdr", "type": "nominal", "bandPosition": 0}}},
               {"transform": [{"aggregate": [{"op": "count", "as": "n"}]}], "mark": {"type": "rule", "strokeWidth": 0.5, "color": "#1A1A1A"}, "encoding": {"y": {"datum": "A", "type": "nominal", "bandPosition": 0}}},
               {"transform": [{"aggregate": [{"op": "count", "as": "n"}]}], "mark": {"type": "rule", "strokeWidth": 0.9, "color": "#1A1A1A"}, "encoding": {"y": {"datum": "N", "type": "nominal", "bandPosition": 1}}}
             ]},
            {"width": 46, "height": 131, "data": {"name": "taxtable"}, "transform": [{"fold": ["Class"], "as": ["col", "label"]}],
             "layer": [
               {"mark": {"type": "text", "align": "left", "baseline": "middle", "fontSize": 4.5, "dx": 1.5, "color": "#1A1A1A"}, "encoding": {"x": {"field": "col", "type": "nominal", "scale": {"paddingInner": 0, "paddingOuter": 0}, "axis": null, "bandPosition": 0}, "y": {"field": "Taxa", "type": "nominal", "scale": {"domain": ["hdr","A","B","C","D","E","F","G","H","I","J","K","L","M","N"], "paddingInner": 0, "paddingOuter": 0.49}, "axis": null}, "text": {"field": "label"}}},
               {"transform": [{"aggregate": [{"op": "count", "as": "n"}], "groupby": ["col"]}], "mark": {"type": "text", "align": "left", "baseline": "middle", "fontSize": 4.5, "dx": 1.5, "color": "#1A1A1A"}, "encoding": {"x": {"field": "col", "type": "nominal", "axis": null, "bandPosition": 0}, "y": {"datum": "hdr", "type": "nominal"}, "text": {"field": "col"}}},
               {"transform": [{"aggregate": [{"op": "count", "as": "n"}]}], "mark": {"type": "rule", "strokeWidth": 1.2, "color": "#1A1A1A"}, "encoding": {"y": {"datum": "hdr", "type": "nominal", "bandPosition": 0}}},
               {"transform": [{"aggregate": [{"op": "count", "as": "n"}]}], "mark": {"type": "rule", "strokeWidth": 0.5, "color": "#1A1A1A"}, "encoding": {"y": {"datum": "A", "type": "nominal", "bandPosition": 0}}},
               {"transform": [{"aggregate": [{"op": "count", "as": "n"}]}], "mark": {"type": "rule", "strokeWidth": 0.9, "color": "#1A1A1A"}, "encoding": {"y": {"datum": "N", "type": "nominal", "bandPosition": 1}}}
             ]},
            {"width": 39, "height": 131, "data": {"name": "taxtable"}, "transform": [{"fold": ["Order"], "as": ["col", "label"]}],
             "layer": [
               {"mark": {"type": "text", "align": "left", "baseline": "middle", "fontSize": 4.5, "dx": 1.5, "color": "#1A1A1A"}, "encoding": {"x": {"field": "col", "type": "nominal", "scale": {"paddingInner": 0, "paddingOuter": 0}, "axis": null, "bandPosition": 0}, "y": {"field": "Taxa", "type": "nominal", "scale": {"domain": ["hdr","A","B","C","D","E","F","G","H","I","J","K","L","M","N"], "paddingInner": 0, "paddingOuter": 0.49}, "axis": null}, "text": {"field": "label"}}},
               {"transform": [{"aggregate": [{"op": "count", "as": "n"}], "groupby": ["col"]}], "mark": {"type": "text", "align": "left", "baseline": "middle", "fontSize": 4.5, "dx": 1.5, "color": "#1A1A1A"}, "encoding": {"x": {"field": "col", "type": "nominal", "axis": null, "bandPosition": 0}, "y": {"datum": "hdr", "type": "nominal"}, "text": {"field": "col"}}},
               {"transform": [{"aggregate": [{"op": "count", "as": "n"}]}], "mark": {"type": "rule", "strokeWidth": 1.2, "color": "#1A1A1A"}, "encoding": {"y": {"datum": "hdr", "type": "nominal", "bandPosition": 0}}},
               {"transform": [{"aggregate": [{"op": "count", "as": "n"}]}], "mark": {"type": "rule", "strokeWidth": 0.5, "color": "#1A1A1A"}, "encoding": {"y": {"datum": "A", "type": "nominal", "bandPosition": 0}}},
               {"transform": [{"aggregate": [{"op": "count", "as": "n"}]}], "mark": {"type": "rule", "strokeWidth": 0.9, "color": "#1A1A1A"}, "encoding": {"y": {"datum": "N", "type": "nominal", "bandPosition": 1}}}
             ]},
            {"width": 49, "height": 131, "data": {"name": "taxtable"}, "transform": [{"fold": ["Family"], "as": ["col", "label"]}],
             "layer": [
               {"mark": {"type": "text", "align": "left", "baseline": "middle", "fontSize": 4.5, "dx": 1.5, "color": "#1A1A1A"}, "encoding": {"x": {"field": "col", "type": "nominal", "scale": {"paddingInner": 0, "paddingOuter": 0}, "axis": null, "bandPosition": 0}, "y": {"field": "Taxa", "type": "nominal", "scale": {"domain": ["hdr","A","B","C","D","E","F","G","H","I","J","K","L","M","N"], "paddingInner": 0, "paddingOuter": 0.49}, "axis": null}, "text": {"field": "label"}}},
               {"transform": [{"aggregate": [{"op": "count", "as": "n"}], "groupby": ["col"]}], "mark": {"type": "text", "align": "left", "baseline": "middle", "fontSize": 4.5, "dx": 1.5, "color": "#1A1A1A"}, "encoding": {"x": {"field": "col", "type": "nominal", "axis": null, "bandPosition": 0}, "y": {"datum": "hdr", "type": "nominal"}, "text": {"field": "col"}}},
               {"transform": [{"aggregate": [{"op": "count", "as": "n"}]}], "mark": {"type": "rule", "strokeWidth": 1.2, "color": "#1A1A1A"}, "encoding": {"y": {"datum": "hdr", "type": "nominal", "bandPosition": 0}}},
               {"transform": [{"aggregate": [{"op": "count", "as": "n"}]}], "mark": {"type": "rule", "strokeWidth": 0.5, "color": "#1A1A1A"}, "encoding": {"y": {"datum": "A", "type": "nominal", "bandPosition": 0}}},
               {"transform": [{"aggregate": [{"op": "count", "as": "n"}]}], "mark": {"type": "rule", "strokeWidth": 0.9, "color": "#1A1A1A"}, "encoding": {"y": {"datum": "N", "type": "nominal", "bandPosition": 1}}}
             ]},
            {"width": 54, "height": 131, "data": {"name": "taxtable"}, "transform": [{"fold": ["Genus"], "as": ["col", "label"]}],
             "layer": [
               {"mark": {"type": "text", "align": "left", "baseline": "middle", "fontSize": 4.5, "dx": 1.5, "color": "#1A1A1A"}, "encoding": {"x": {"field": "col", "type": "nominal", "scale": {"paddingInner": 0, "paddingOuter": 0}, "axis": null, "bandPosition": 0}, "y": {"field": "Taxa", "type": "nominal", "scale": {"domain": ["hdr","A","B","C","D","E","F","G","H","I","J","K","L","M","N"], "paddingInner": 0, "paddingOuter": 0.49}, "axis": null}, "text": {"field": "label"}}},
               {"transform": [{"aggregate": [{"op": "count", "as": "n"}], "groupby": ["col"]}], "mark": {"type": "text", "align": "left", "baseline": "middle", "fontSize": 4.5, "dx": 1.5, "color": "#1A1A1A"}, "encoding": {"x": {"field": "col", "type": "nominal", "axis": null, "bandPosition": 0}, "y": {"datum": "hdr", "type": "nominal"}, "text": {"field": "col"}}},
               {"transform": [{"aggregate": [{"op": "count", "as": "n"}]}], "mark": {"type": "rule", "strokeWidth": 1.2, "color": "#1A1A1A"}, "encoding": {"y": {"datum": "hdr", "type": "nominal", "bandPosition": 0}}},
               {"transform": [{"aggregate": [{"op": "count", "as": "n"}]}], "mark": {"type": "rule", "strokeWidth": 0.5, "color": "#1A1A1A"}, "encoding": {"y": {"datum": "A", "type": "nominal", "bandPosition": 0}}},
               {"transform": [{"aggregate": [{"op": "count", "as": "n"}]}], "mark": {"type": "rule", "strokeWidth": 0.9, "color": "#1A1A1A"}, "encoding": {"y": {"datum": "N", "type": "nominal", "bandPosition": 1}}}
             ]}
          ]
        }
      ]
    },
    {
      "spacing": 10,
      "resolve": {"scale": {"x": "independent", "y": "independent", "xOffset": "independent", "fill": "shared", "color": "shared", "stroke": "shared"}, "legend": {"fill": "shared"}},
      "hconcat": [
        {
          "columns": 2, "spacing": {"row": 14, "column": 0}, "bounds": "flush", "align": "each",
          "resolve": {"scale": {"x": "independent", "y": "independent", "xOffset": "independent", "color": "shared", "stroke": "shared"}},
          "concat": [
            {"title": {"text": "B", "offset": 0, "dx": -1},
             "width": 8, "height": 116, "data": {"values": [{"lab": "Vancomycin"}]},
             "layer": [
               {"mark": {"type": "rect", "fill": "#D9D9D9", "stroke": "#333333", "strokeWidth": 0.5}, "encoding": {}},
               {"mark": {"type": "text", "angle": 270, "fontSize": 6, "color": "#1A1A1A"},
                "encoding": {"y": {"datum": 77, "type": "quantitative", "scale": {"domain": [24, 130], "nice": false, "zero": false}, "axis": {"values": [25, 50, 75, 100, 125], "title": "Shannon % change", "titleY": 138, "domain": false, "labelPadding": 0.5, "titlePadding": 1, "tickSize": 2}}, "text": {"field": "lab"}}}
             ]},
            {"width": 147, "height": 116, "data": {"name": "trajB"},
             "view": {"stroke": "#4D4D4D", "strokeWidth": 0.6},
             "layer": [
               {"mark": {"type": "line", "strokeWidth": 0.6, "opacity": 0.45},
                "encoding": {
                  "x": {"field": "day", "type": "ordinal", "title": "Day", "scale": {"paddingInner": 0, "paddingOuter": 0.1}, "axis": {"labelAngle": 0, "grid": true, "gridColor": "#EBEBEB", "bandPosition": 0.5, "domain": false, "titlePadding": -6}},
                  "xOffset": {"field": "trt", "type": "nominal", "scale": {"paddingInner": 0, "paddingOuter": 0.4}},
                  "y": {"field": "pct", "type": "quantitative", "scale": {"domain": [24, 130], "nice": false, "zero": false}, "axis": {"values": [25, 50, 75, 100, 125], "grid": true, "gridColor": "#EBEBEB", "labels": false, "ticks": false, "domain": false, "title": null}},
                  "stroke": {"field": "trt", "type": "nominal", "scale": {"domain": ["CTRL","PFOS","VAN","VAN+PFOS"], "range": ["#696969","#35A335","#6A9BD8","#F4D11C"]}, "legend": null},
                  "detail": {"field": "mouse"}}},
               {"mark": {"type": "boxplot", "extent": 1.5, "outliers": false, "size": 11, "box": {"fillOpacity": 0, "strokeWidth": 0.9}, "median": {"thickness": 1.3}, "rule": {"strokeWidth": 0.9}},
                "encoding": {
                  "x": {"field": "day", "type": "ordinal"},
                  "xOffset": {"field": "trt", "type": "nominal"},
                  "y": {"field": "pct", "type": "quantitative", "title": null},
                  "color": {"field": "trt", "type": "nominal", "scale": {"domain": ["CTRL","PFOS","VAN","VAN+PFOS"], "range": ["#696969","#35A335","#6A9BD8","#F4D11C"]}, "legend": null},
                  "stroke": {"field": "trt", "type": "nominal", "legend": null}}},
               {"mark": {"type": "square", "size": 5, "opacity": 0.9},
                "encoding": {
                  "x": {"field": "day", "type": "ordinal"},
                  "xOffset": {"field": "trt", "type": "nominal"},
                  "y": {"field": "pct", "type": "quantitative"},
                  "color": {"field": "trt", "type": "nominal", "legend": null}}},
               {"data": {"values": [{"lab": "Shannon"}]}, "mark": {"type": "rect", "fill": "#D9D9D9", "stroke": "#333333", "strokeWidth": 0.5}, "encoding": {"y": {"datum": 130.9}, "y2": {"datum": 138.7}}},
               {"data": {"values": [{"lab": "Shannon"}]}, "mark": {"type": "text", "fontSize": 6, "color": "#1A1A1A"}, "encoding": {"y": {"datum": 134.8}, "text": {"field": "lab"}}}
             ]},
            {"title": {"text": "C", "offset": 0, "dx": -9},
             "width": 8, "height": 112, "data": {"values": [{"lab": "No vancomycin"}]},
             "layer": [
               {"mark": {"type": "rect", "fill": "#D9D9D9", "stroke": "#333333", "strokeWidth": 0.5}, "encoding": {}},
               {"mark": {"type": "text", "angle": 270, "fontSize": 6, "color": "#1A1A1A"},
                "encoding": {"y": {"datum": 114, "type": "quantitative", "scale": {"domain": [40, 188], "nice": false, "zero": false}, "axis": {"values": [80, 120, 160], "title": null, "domain": false, "labelPadding": 0.5, "tickSize": 2}}, "text": {"field": "lab"}}}
             ]},
            {"width": 147, "height": 112, "data": {"name": "trajC"},
             "view": {"stroke": "#4D4D4D", "strokeWidth": 0.6},
             "layer": [
               {"mark": {"type": "line", "strokeWidth": 0.6, "opacity": 0.45},
                "encoding": {
                  "x": {"field": "day", "type": "ordinal", "title": null, "scale": {"paddingInner": 0, "paddingOuter": 0.1}, "axis": {"labelAngle": 0, "grid": true, "gridColor": "#EBEBEB", "bandPosition": 0.5, "domain": false}},
                  "xOffset": {"field": "trt", "type": "nominal", "scale": {"paddingInner": 0, "paddingOuter": 0.4}},
                  "y": {"field": "pct", "type": "quantitative", "scale": {"domain": [40, 188], "nice": false, "zero": false}, "axis": {"values": [80, 120, 160], "grid": true, "gridColor": "#EBEBEB", "labels": false, "ticks": false, "domain": false, "title": null}},
                  "stroke": {"field": "trt", "type": "nominal", "scale": {"domain": ["CTRL","PFOS","VAN","VAN+PFOS"], "range": ["#696969","#35A335","#6A9BD8","#F4D11C"]}, "legend": null},
                  "detail": {"field": "mouse"}}},
               {"mark": {"type": "boxplot", "extent": 1.5, "outliers": false, "size": 11, "box": {"fillOpacity": 0, "strokeWidth": 0.9}, "median": {"thickness": 1.3}, "rule": {"strokeWidth": 0.9}},
                "encoding": {
                  "x": {"field": "day", "type": "ordinal"},
                  "xOffset": {"field": "trt", "type": "nominal"},
                  "y": {"field": "pct", "type": "quantitative", "title": null},
                  "color": {"field": "trt", "type": "nominal", "scale": {"domain": ["CTRL","PFOS","VAN","VAN+PFOS"], "range": ["#696969","#35A335","#6A9BD8","#F4D11C"]}, "legend": null},
                  "stroke": {"field": "trt", "type": "nominal", "legend": null}}},
               {"mark": {"type": "square", "size": 5, "opacity": 0.9},
                "encoding": {
                  "x": {"field": "day", "type": "ordinal"},
                  "xOffset": {"field": "trt", "type": "nominal"},
                  "y": {"field": "pct", "type": "quantitative"},
                  "color": {"field": "trt", "type": "nominal", "legend": null}}}
             ]}
          ]
        },
        {
          "columns": 3, "spacing": {"row": 22, "column": 25}, "bounds": "flush", "align": "each",
          "resolve": {"scale": {"x": "independent", "y": "independent", "xOffset": "independent", "fill": "shared"}, "legend": {"fill": "shared"}},
          "concat": [
            {"title": {"text": "D", "offset": -10, "dx": 1},
             "width": 66, "height": 110, "data": {"name": "alphaD"},
             "transform": [{"filter": "datum.metric == 'Observed'"}],
             "layer": [
               {"mark": {"type": "bar", "width": {"band": 0.73}},
                "encoding": {
                  "x": {"field": "group", "type": "nominal", "sort": ["VAN","VAN+PFOS"], "title": null, "scale": {"paddingInner": 0, "paddingOuter": 0.1}, "axis": {"labelAngle": 0, "labelFontSize": 6.5, "labelColor": "#1A1A1A", "domainColor": "#000000", "tickColor": "#000000"}},
                  "y": {"aggregate": "q1", "field": "value", "type": "quantitative", "title": "Observed", "scale": {"domain": [49, 117], "nice": false, "zero": false}, "axis": {"values": [60, 80, 100], "domainColor": "#000000", "tickColor": "#000000"}},
                  "y2": {"aggregate": "q3", "field": "value"},
                  "fill": {"field": "group", "type": "nominal", "scale": {"domain": ["CTRL","PFOS","VAN","VAN+PFOS"], "range": ["#696969","#35A335","#6A9BD8","#F4D11C"]},
                           "legend": {"orient": "none", "legendX": 152, "legendY": 158, "direction": "horizontal", "title": "Treatment", "titleOrient": "left", "titleFontSize": 6.5, "titleFontWeight": "normal", "titleColor": "#1A1A1A", "labelFontSize": 6, "labelColor": "#1A1A1A", "symbolType": "square", "symbolSize": 36, "symbolStrokeColor": "#1A1A1A", "symbolStrokeWidth": 0.6, "columnPadding": 6, "labelOffset": 2, "titlePadding": 3}}}},
               {"mark": {"type": "boxplot", "extent": 1.5, "outliers": false, "size": 22, "box": {"fillOpacity": 0, "stroke": "#000000", "strokeWidth": 0.6}, "median": {"color": "#000000", "thickness": 1.2}, "rule": {"color": "#000000", "strokeWidth": 0.6}},
                "encoding": {"x": {"field": "group", "type": "nominal"}, "y": {"field": "value", "type": "quantitative", "title": "Observed"}}},
               {"mark": {"type": "circle", "size": 6, "color": "#000000", "opacity": 1},
                "encoding": {"x": {"field": "group", "type": "nominal"}, "xOffset": {"field": "mouse", "type": "ordinal", "scale": {"paddingOuter": 2}}, "y": {"field": "value", "type": "quantitative", "title": "Observed"}}},
               {"transform": [{"joinaggregate": [{"op": "max", "field": "value", "as": "ymax"}]}, {"aggregate": [{"op": "max", "field": "ymax", "as": "ymax"}], "groupby": ["group"]}],
                "mark": {"type": "rule", "strokeWidth": 0.6, "color": "#000000", "yOffset": -5, "y2Offset": -2},
                "encoding": {"x": {"field": "group", "type": "nominal"}, "y": {"field": "ymax", "type": "quantitative", "title": "Observed"}, "y2": {"field": "ymax"}}},
               {"transform": [{"aggregate": [{"op": "max", "field": "value", "as": "ymax"}]}],
                "mark": {"type": "rule", "strokeWidth": 0.6, "color": "#000000", "yOffset": -5},
                "encoding": {"x": {"datum": "VAN", "type": "nominal"}, "x2": {"datum": "VAN+PFOS"}, "y": {"field": "ymax", "type": "quantitative", "title": "Observed"}}},
               {"transform": [{"aggregate": [{"op": "max", "field": "value", "as": "ymax"}], "groupby": ["metric"]}, {"lookup": "metric", "from": {"data": {"name": "pD"}, "key": "metric", "fields": ["p"]}}],
                "mark": {"type": "text", "fontSize": 6, "baseline": "alphabetic", "dy": -7},
                "encoding": {"y": {"field": "ymax", "type": "quantitative", "title": "Observed"}, "text": {"field": "p"}, "color": {"condition": {"test": "toNumber(datum.p) < 0.05", "value": "#E8281E"}, "value": "#1A1A1A"}}},
               {"data": {"values": [{"metric": "Observed", "lab": "Observed"}]}, "mark": {"type": "rect", "fill": "#D9D9D9", "stroke": "#333333", "strokeWidth": 0.5}, "encoding": {"y": {"datum": 117.62, "title": "Observed"}, "y2": {"datum": 123.18}}},
               {"data": {"values": [{"metric": "Observed", "lab": "Observed"}]}, "mark": {"type": "text", "fontSize": 6, "color": "#1A1A1A"}, "encoding": {"y": {"datum": 120.4, "title": "Observed"}, "text": {"field": "lab"}}}
             ]},
            {"width": 68, "height": 110, "data": {"name": "alphaD"},
             "transform": [{"filter": "datum.metric == 'Shannon'"}],
             "layer": [
               {"mark": {"type": "bar", "width": {"band": 0.73}},
                "encoding": {
                  "x": {"field": "group", "type": "nominal", "sort": ["VAN","VAN+PFOS"], "title": null, "scale": {"paddingInner": 0, "paddingOuter": 0.1}, "axis": {"labelAngle": 0, "labelFontSize": 6.5, "labelColor": "#1A1A1A", "domainColor": "#000000", "tickColor": "#000000"}},
                  "y": {"aggregate": "q1", "field": "value", "type": "quantitative", "title": "Shannon", "scale": {"domain": [0.8, 2.45], "nice": false, "zero": false}, "axis": {"values": [1.2, 1.6, 2.0, 2.4], "format": ".1f", "domainColor": "#000000", "tickColor": "#000000"}},
                  "y2": {"aggregate": "q3", "field": "value"},
                  "fill": {"field": "group", "type": "nominal", "scale": {"domain": ["CTRL","PFOS","VAN","VAN+PFOS"], "range": ["#696969","#35A335","#6A9BD8","#F4D11C"]}}}},
               {"mark": {"type": "boxplot", "extent": 1.5, "outliers": false, "size": 22, "box": {"fillOpacity": 0, "stroke": "#000000", "strokeWidth": 0.6}, "median": {"color": "#000000", "thickness": 1.2}, "rule": {"color": "#000000", "strokeWidth": 0.6}},
                "encoding": {"x": {"field": "group", "type": "nominal"}, "y": {"field": "value", "type": "quantitative", "title": "Shannon"}}},
               {"mark": {"type": "circle", "size": 6, "color": "#000000", "opacity": 1},
                "encoding": {"x": {"field": "group", "type": "nominal"}, "xOffset": {"field": "mouse", "type": "ordinal", "scale": {"paddingOuter": 2}}, "y": {"field": "value", "type": "quantitative", "title": "Shannon"}}},
               {"transform": [{"joinaggregate": [{"op": "max", "field": "value", "as": "ymax"}]}, {"aggregate": [{"op": "max", "field": "ymax", "as": "ymax"}], "groupby": ["group"]}],
                "mark": {"type": "rule", "strokeWidth": 0.6, "color": "#000000", "yOffset": -5, "y2Offset": -2},
                "encoding": {"x": {"field": "group", "type": "nominal"}, "y": {"field": "ymax", "type": "quantitative", "title": "Shannon"}, "y2": {"field": "ymax"}}},
               {"transform": [{"aggregate": [{"op": "max", "field": "value", "as": "ymax"}]}],
                "mark": {"type": "rule", "strokeWidth": 0.6, "color": "#000000", "yOffset": -5},
                "encoding": {"x": {"datum": "VAN", "type": "nominal"}, "x2": {"datum": "VAN+PFOS"}, "y": {"field": "ymax", "type": "quantitative", "title": "Shannon"}}},
               {"transform": [{"aggregate": [{"op": "max", "field": "value", "as": "ymax"}], "groupby": ["metric"]}, {"lookup": "metric", "from": {"data": {"name": "pD"}, "key": "metric", "fields": ["p"]}}],
                "mark": {"type": "text", "fontSize": 6, "baseline": "alphabetic", "dy": -7},
                "encoding": {"y": {"field": "ymax", "type": "quantitative", "title": "Shannon"}, "text": {"field": "p"}, "color": {"condition": {"test": "toNumber(datum.p) < 0.05", "value": "#E8281E"}, "value": "#1A1A1A"}}},
               {"data": {"values": [{"metric": "Shannon", "lab": "Shannon"}]}, "mark": {"type": "rect", "fill": "#D9D9D9", "stroke": "#333333", "strokeWidth": 0.5}, "encoding": {"y": {"datum": 2.465, "title": "Shannon"}, "y2": {"datum": 2.6}}},
               {"data": {"values": [{"metric": "Shannon", "lab": "Shannon"}]}, "mark": {"type": "text", "fontSize": 6, "color": "#1A1A1A"}, "encoding": {"y": {"datum": 2.533, "title": "Shannon"}, "text": {"field": "lab"}}}
             ]},
            {"width": 64, "height": 110, "data": {"name": "alphaD"},
             "transform": [{"filter": "datum.metric == 'FaithPD'"}],
             "layer": [
               {"mark": {"type": "bar", "width": {"band": 0.73}},
                "encoding": {
                  "x": {"field": "group", "type": "nominal", "sort": ["VAN","VAN+PFOS"], "title": null, "scale": {"paddingInner": 0, "paddingOuter": 0.1}, "axis": {"labelAngle": 0, "labelFontSize": 6.5, "labelColor": "#1A1A1A", "domainColor": "#000000", "tickColor": "#000000"}},
                  "y": {"aggregate": "q1", "field": "value", "type": "quantitative", "title": "FaithPD", "scale": {"domain": [11.2, 17.9], "nice": false, "zero": false}, "axis": {"values": [12, 14, 16], "domainColor": "#000000", "tickColor": "#000000"}},
                  "y2": {"aggregate": "q3", "field": "value"},
                  "fill": {"field": "group", "type": "nominal", "scale": {"domain": ["CTRL","PFOS","VAN","VAN+PFOS"], "range": ["#696969","#35A335","#6A9BD8","#F4D11C"]}}}},
               {"mark": {"type": "boxplot", "extent": 1.5, "outliers": false, "size": 22, "box": {"fillOpacity": 0, "stroke": "#000000", "strokeWidth": 0.6}, "median": {"color": "#000000", "thickness": 1.2}, "rule": {"color": "#000000", "strokeWidth": 0.6}},
                "encoding": {"x": {"field": "group", "type": "nominal"}, "y": {"field": "value", "type": "quantitative", "title": "FaithPD"}}},
               {"mark": {"type": "circle", "size": 6, "color": "#000000", "opacity": 1},
                "encoding": {"x": {"field": "group", "type": "nominal"}, "xOffset": {"field": "mouse", "type": "ordinal", "scale": {"paddingOuter": 2}}, "y": {"field": "value", "type": "quantitative", "title": "FaithPD"}}},
               {"transform": [{"joinaggregate": [{"op": "max", "field": "value", "as": "ymax"}]}, {"aggregate": [{"op": "max", "field": "ymax", "as": "ymax"}], "groupby": ["group"]}],
                "mark": {"type": "rule", "strokeWidth": 0.6, "color": "#000000", "yOffset": -5, "y2Offset": -2},
                "encoding": {"x": {"field": "group", "type": "nominal"}, "y": {"field": "ymax", "type": "quantitative", "title": "FaithPD"}, "y2": {"field": "ymax"}}},
               {"transform": [{"aggregate": [{"op": "max", "field": "value", "as": "ymax"}]}],
                "mark": {"type": "rule", "strokeWidth": 0.6, "color": "#000000", "yOffset": -5},
                "encoding": {"x": {"datum": "VAN", "type": "nominal"}, "x2": {"datum": "VAN+PFOS"}, "y": {"field": "ymax", "type": "quantitative", "title": "FaithPD"}}},
               {"transform": [{"aggregate": [{"op": "max", "field": "value", "as": "ymax"}], "groupby": ["metric"]}, {"lookup": "metric", "from": {"data": {"name": "pD"}, "key": "metric", "fields": ["p"]}}],
                "mark": {"type": "text", "fontSize": 6, "baseline": "alphabetic", "dy": -7},
                "encoding": {"y": {"field": "ymax", "type": "quantitative", "title": "FaithPD"}, "text": {"field": "p"}, "color": {"condition": {"test": "toNumber(datum.p) < 0.05", "value": "#E8281E"}, "value": "#1A1A1A"}}},
               {"data": {"values": [{"metric": "FaithPD", "lab": "FaithPD"}]}, "mark": {"type": "rect", "fill": "#D9D9D9", "stroke": "#333333", "strokeWidth": 0.5}, "encoding": {"y": {"datum": 17.961, "title": "FaithPD"}, "y2": {"datum": 18.509}}},
               {"data": {"values": [{"metric": "FaithPD", "lab": "FaithPD"}]}, "mark": {"type": "text", "fontSize": 6, "color": "#1A1A1A"}, "encoding": {"y": {"datum": 18.235, "title": "FaithPD"}, "text": {"field": "lab"}}}
             ]},
            {"title": {"text": "E", "offset": 10, "dx": 1},
             "width": 66, "height": 112, "data": {"name": "alphaE"},
             "transform": [{"filter": "datum.metric == 'Observed'"}],
             "layer": [
               {"mark": {"type": "bar", "width": {"band": 0.73}},
                "encoding": {
                  "x": {"field": "group", "type": "nominal", "sort": ["CTRL","PFOS"], "title": null, "scale": {"paddingInner": 0, "paddingOuter": 0.1}, "axis": {"labelAngle": 0, "labelFontSize": 6.5, "labelColor": "#1A1A1A", "domainColor": "#000000", "tickColor": "#000000"}},
                  "y": {"aggregate": "q1", "field": "value", "type": "quantitative", "title": "Observed", "scale": {"domain": [163, 250], "nice": false, "zero": false}, "axis": {"values": [180, 200, 220, 240], "domainColor": "#000000", "tickColor": "#000000"}},
                  "y2": {"aggregate": "q3", "field": "value"},
                  "fill": {"field": "group", "type": "nominal", "scale": {"domain": ["CTRL","PFOS","VAN","VAN+PFOS"], "range": ["#696969","#35A335","#6A9BD8","#F4D11C"]}}}},
               {"mark": {"type": "boxplot", "extent": 1.5, "outliers": false, "size": 22, "box": {"fillOpacity": 0, "stroke": "#000000", "strokeWidth": 0.6}, "median": {"color": "#000000", "thickness": 1.2}, "rule": {"color": "#000000", "strokeWidth": 0.6}},
                "encoding": {"x": {"field": "group", "type": "nominal"}, "y": {"field": "value", "type": "quantitative", "title": "Observed"}}},
               {"mark": {"type": "circle", "size": 6, "color": "#000000", "opacity": 1},
                "encoding": {"x": {"field": "group", "type": "nominal"}, "xOffset": {"field": "mouse", "type": "ordinal", "scale": {"paddingOuter": 2}}, "y": {"field": "value", "type": "quantitative", "title": "Observed"}}},
               {"transform": [{"joinaggregate": [{"op": "max", "field": "value", "as": "ymax"}]}, {"aggregate": [{"op": "max", "field": "ymax", "as": "ymax"}], "groupby": ["group"]}],
                "mark": {"type": "rule", "strokeWidth": 0.6, "color": "#000000", "yOffset": -5, "y2Offset": -2},
                "encoding": {"x": {"field": "group", "type": "nominal"}, "y": {"field": "ymax", "type": "quantitative", "title": "Observed"}, "y2": {"field": "ymax"}}},
               {"transform": [{"aggregate": [{"op": "max", "field": "value", "as": "ymax"}]}],
                "mark": {"type": "rule", "strokeWidth": 0.6, "color": "#000000", "yOffset": -5},
                "encoding": {"x": {"datum": "CTRL", "type": "nominal"}, "x2": {"datum": "PFOS"}, "y": {"field": "ymax", "type": "quantitative", "title": "Observed"}}},
               {"transform": [{"aggregate": [{"op": "max", "field": "value", "as": "ymax"}], "groupby": ["metric"]}, {"lookup": "metric", "from": {"data": {"name": "pE"}, "key": "metric", "fields": ["p"]}}],
                "mark": {"type": "text", "fontSize": 6, "baseline": "alphabetic", "dy": -7},
                "encoding": {"y": {"field": "ymax", "type": "quantitative", "title": "Observed"}, "text": {"field": "p"}, "color": {"condition": {"test": "toNumber(datum.p) < 0.05", "value": "#E8281E"}, "value": "#1A1A1A"}}}
             ]},
            {"width": 68, "height": 112, "data": {"name": "alphaE"},
             "transform": [{"filter": "datum.metric == 'Shannon'"}],
             "layer": [
               {"mark": {"type": "bar", "width": {"band": 0.73}},
                "encoding": {
                  "x": {"field": "group", "type": "nominal", "sort": ["CTRL","PFOS"], "title": null, "scale": {"paddingInner": 0, "paddingOuter": 0.1}, "axis": {"labelAngle": 0, "labelFontSize": 6.5, "labelColor": "#1A1A1A", "domainColor": "#000000", "tickColor": "#000000"}},
                  "y": {"aggregate": "q1", "field": "value", "type": "quantitative", "title": "Shannon", "scale": {"domain": [1.5, 4.08], "nice": false, "zero": false}, "axis": {"values": [2.0, 2.5, 3.0, 3.5, 4.0], "format": ".1f", "domainColor": "#000000", "tickColor": "#000000"}},
                  "y2": {"aggregate": "q3", "field": "value"},
                  "fill": {"field": "group", "type": "nominal", "scale": {"domain": ["CTRL","PFOS","VAN","VAN+PFOS"], "range": ["#696969","#35A335","#6A9BD8","#F4D11C"]}}}},
               {"mark": {"type": "boxplot", "extent": 1.5, "outliers": false, "size": 22, "box": {"fillOpacity": 0, "stroke": "#000000", "strokeWidth": 0.6}, "median": {"color": "#000000", "thickness": 1.2}, "rule": {"color": "#000000", "strokeWidth": 0.6}},
                "encoding": {"x": {"field": "group", "type": "nominal"}, "y": {"field": "value", "type": "quantitative", "title": "Shannon"}}},
               {"mark": {"type": "circle", "size": 6, "color": "#000000", "opacity": 1},
                "encoding": {"x": {"field": "group", "type": "nominal"}, "xOffset": {"field": "mouse", "type": "ordinal", "scale": {"paddingOuter": 2}}, "y": {"field": "value", "type": "quantitative", "title": "Shannon"}}},
               {"transform": [{"joinaggregate": [{"op": "max", "field": "value", "as": "ymax"}]}, {"aggregate": [{"op": "max", "field": "ymax", "as": "ymax"}], "groupby": ["group"]}],
                "mark": {"type": "rule", "strokeWidth": 0.6, "color": "#000000", "yOffset": -5, "y2Offset": -2},
                "encoding": {"x": {"field": "group", "type": "nominal"}, "y": {"field": "ymax", "type": "quantitative", "title": "Shannon"}, "y2": {"field": "ymax"}}},
               {"transform": [{"aggregate": [{"op": "max", "field": "value", "as": "ymax"}]}],
                "mark": {"type": "rule", "strokeWidth": 0.6, "color": "#000000", "yOffset": -5},
                "encoding": {"x": {"datum": "CTRL", "type": "nominal"}, "x2": {"datum": "PFOS"}, "y": {"field": "ymax", "type": "quantitative", "title": "Shannon"}}},
               {"transform": [{"aggregate": [{"op": "max", "field": "value", "as": "ymax"}], "groupby": ["metric"]}, {"lookup": "metric", "from": {"data": {"name": "pE"}, "key": "metric", "fields": ["p"]}}],
                "mark": {"type": "text", "fontSize": 6, "baseline": "alphabetic", "dy": -7},
                "encoding": {"y": {"field": "ymax", "type": "quantitative", "title": "Shannon"}, "text": {"field": "p"}, "color": {"condition": {"test": "toNumber(datum.p) < 0.05", "value": "#E8281E"}, "value": "#1A1A1A"}}}
             ]},
            {"width": 64, "height": 112, "data": {"name": "alphaE"},
             "transform": [{"filter": "datum.metric == 'FaithPD'"}],
             "layer": [
               {"mark": {"type": "bar", "width": {"band": 0.73}},
                "encoding": {
                  "x": {"field": "group", "type": "nominal", "sort": ["CTRL","PFOS"], "title": null, "scale": {"paddingInner": 0, "paddingOuter": 0.1}, "axis": {"labelAngle": 0, "labelFontSize": 6.5, "labelColor": "#1A1A1A", "domainColor": "#000000", "tickColor": "#000000"}},
                  "y": {"aggregate": "q1", "field": "value", "type": "quantitative", "title": "FaithPD", "scale": {"domain": [20.4, 26.5], "nice": false, "zero": false}, "axis": {"values": [22, 24, 26], "domainColor": "#000000", "tickColor": "#000000"}},
                  "y2": {"aggregate": "q3", "field": "value"},
                  "fill": {"field": "group", "type": "nominal", "scale": {"domain": ["CTRL","PFOS","VAN","VAN+PFOS"], "range": ["#696969","#35A335","#6A9BD8","#F4D11C"]}}}},
               {"mark": {"type": "boxplot", "extent": 1.5, "outliers": false, "size": 22, "box": {"fillOpacity": 0, "stroke": "#000000", "strokeWidth": 0.6}, "median": {"color": "#000000", "thickness": 1.2}, "rule": {"color": "#000000", "strokeWidth": 0.6}},
                "encoding": {"x": {"field": "group", "type": "nominal"}, "y": {"field": "value", "type": "quantitative", "title": "FaithPD"}}},
               {"mark": {"type": "circle", "size": 6, "color": "#000000", "opacity": 1},
                "encoding": {"x": {"field": "group", "type": "nominal"}, "xOffset": {"field": "mouse", "type": "ordinal", "scale": {"paddingOuter": 2}}, "y": {"field": "value", "type": "quantitative", "title": "FaithPD"}}},
               {"transform": [{"joinaggregate": [{"op": "max", "field": "value", "as": "ymax"}]}, {"aggregate": [{"op": "max", "field": "ymax", "as": "ymax"}], "groupby": ["group"]}],
                "mark": {"type": "rule", "strokeWidth": 0.6, "color": "#000000", "yOffset": -5, "y2Offset": -2},
                "encoding": {"x": {"field": "group", "type": "nominal"}, "y": {"field": "ymax", "type": "quantitative", "title": "FaithPD"}, "y2": {"field": "ymax"}}},
               {"transform": [{"aggregate": [{"op": "max", "field": "value", "as": "ymax"}]}],
                "mark": {"type": "rule", "strokeWidth": 0.6, "color": "#000000", "yOffset": -5},
                "encoding": {"x": {"datum": "CTRL", "type": "nominal"}, "x2": {"datum": "PFOS"}, "y": {"field": "ymax", "type": "quantitative", "title": "FaithPD"}}},
               {"transform": [{"aggregate": [{"op": "max", "field": "value", "as": "ymax"}], "groupby": ["metric"]}, {"lookup": "metric", "from": {"data": {"name": "pE"}, "key": "metric", "fields": ["p"]}}],
                "mark": {"type": "text", "fontSize": 6, "baseline": "alphabetic", "dy": -7},
                "encoding": {"y": {"field": "ymax", "type": "quantitative", "title": "FaithPD"}, "text": {"field": "p"}, "color": {"condition": {"test": "toNumber(datum.p) < 0.05", "value": "#E8281E"}, "value": "#1A1A1A"}}}
             ]}
          ]
        }
      ]
    }
  ]
}
